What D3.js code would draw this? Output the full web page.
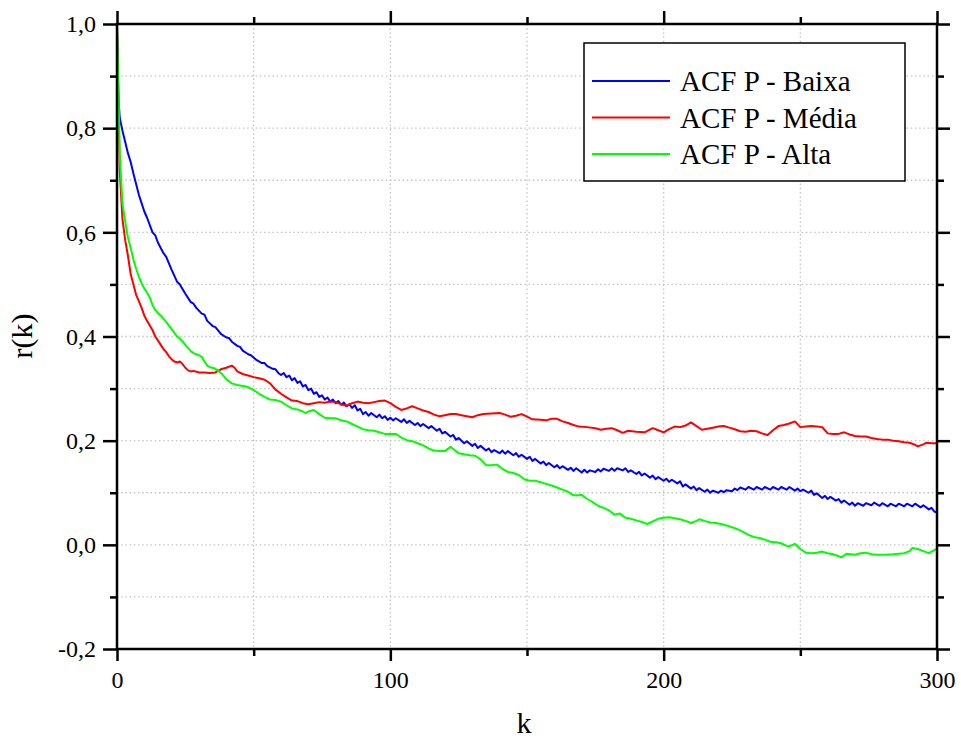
<!DOCTYPE html>
<html>
<head>
<meta charset="utf-8">
<script src="https://cdn.jsdelivr.net/npm/d3@7"></script>
<style>
  html, body { margin: 0; padding: 0; background: #fff; overflow: hidden; }
  svg { display: block; }
  svg text { font-family: "Liberation Serif", "Times New Roman", serif; fill: #000; }
</style>
<script>
// Data: [k, r(k)]
const baixa = [
  [0,1.000],[0.5,0.86],[1,0.82],[2,0.795],[4,0.752],[5,0.735],[6,0.713],[8,0.672],[10,0.640],[11,0.628],
  [13,0.600],[14,0.594],[15,0.580],[17,0.560],[18,0.553],[20,0.528],[22,0.505],[23,0.500],[25,0.482],[27,0.466],
  [28,0.463],[29,0.455],[31,0.444],[32,0.442],[33,0.430],[35,0.420],[36,0.418],[38,0.405],[40,0.398],[41,0.397],
  [42,0.390],[44,0.382],[45,0.380],[46,0.373],[48,0.366],[49,0.364],[51,0.355],[53,0.349],[54,0.349],[55,0.343],
  [57,0.338],[58,0.337],[59,0.330],
  [60,0.326],[61,0.330],[62,0.322],[63,0.325],[64,0.316],[65,0.320],[66,0.311],[67,0.314],[68,0.304],[69,0.307],
  [70,0.297],[71,0.300],[72,0.290],[73,0.293],[74,0.284],[75,0.287],[76,0.279],[77,0.283],[78,0.275],[79,0.279],
  [80,0.272],[81,0.276],[82,0.269],[83,0.273],[84,0.266],[85,0.270],[86,0.263],[87,0.268],[88,0.258],[89,0.261],
  [90,0.251],[91,0.255],[92,0.248],[93,0.253],[95,0.245],[96,0.250],[97,0.243],[98,0.247],[99,0.240],[100,0.244],
  [101,0.239],[102,0.243],[104,0.236],[105,0.241],[106,0.234],[107,0.238],[109,0.230],[110,0.234],[111,0.228],[112,0.232],
  [114,0.224],[115,0.228],[117,0.219],[118,0.223],[119,0.214],[120,0.217],[122,0.208],[123,0.211],[124,0.202],[125,0.205],
  [127,0.195],[128,0.199],[130,0.190],[131,0.194],[132,0.186],[133,0.190],[135,0.181],[136,0.185],[137,0.178],[138,0.182],
  [140,0.176],[141,0.181],[142,0.175],[143,0.180],[145,0.172],[146,0.176],[147,0.169],[148,0.173],[150,0.165],[151,0.169],
  [152,0.161],[153,0.165],[155,0.156],[156,0.160],[157,0.153],[158,0.157],[160,0.149],[161,0.153],[162,0.147],[163,0.151],
  [165,0.144],[166,0.148],[167,0.142],[168,0.147],[170,0.139],[171,0.144],[172,0.139],[173,0.143],[175,0.140],[176,0.145],
  [177,0.141],[178,0.146],[180,0.142],[181,0.147],[182,0.142],[183,0.147],[185,0.143],[186,0.147],[187,0.140],[188,0.143],
  [190,0.136],[191,0.140],[192,0.133],[193,0.137],[195,0.129],[196,0.133],[197,0.126],[198,0.130],[200,0.123],[201,0.127],
  [202,0.121],[203,0.125],[205,0.118],[206,0.122],[207,0.112],[208,0.116],[210,0.108],[211,0.112],[212,0.105],[213,0.109],
  [215,0.102],[216,0.106],[217,0.100],[218,0.104],[220,0.100],[221,0.104],[222,0.101],[223,0.105],[225,0.103],[226,0.108],
  [227,0.105],[228,0.110],[230,0.106],[231,0.111],[233,0.106],[234,0.111],[236,0.106],[237,0.111],[239,0.106],[240,0.111],
  [242,0.106],[243,0.111],[245,0.106],[246,0.111],[248,0.104],[249,0.108],[250,0.103],[251,0.106],[253,0.100],[254,0.104],
  [255,0.096],[256,0.099],[258,0.090],[259,0.094],[260,0.088],[261,0.092],[263,0.085],[264,0.088],[265,0.081],[266,0.085],
  [268,0.077],[269,0.081],[270,0.075],[271,0.080],[273,0.075],[274,0.080],[276,0.076],[277,0.081],[279,0.075],[280,0.080],
  [282,0.074],[283,0.079],[285,0.074],[286,0.079],[288,0.074],[289,0.079],[291,0.074],[292,0.079],[294,0.072],[295,0.076],
  [297,0.068],[298,0.071],[299,0.064],[300,0.062]
];

const media = [
  [0,1.000],[1,0.72],[2,0.625],[3,0.585],[4,0.555],[5,0.52],[6,0.50],[7,0.48],[8,0.468],[9,0.455],
  [10,0.440],[11,0.430],[12,0.421],[13,0.412],[14,0.400],[15,0.392],[16,0.384],[17,0.376],[18,0.370],[19,0.362],
  [20,0.356],[21,0.352],[22,0.350],[23,0.352],[24,0.347],[25,0.340],[26,0.335],[27,0.333],[28,0.334],[30,0.331],
  [32,0.331],[34,0.330],[36,0.331],[38,0.337],[40,0.340],[42,0.344],[43,0.340],[44,0.333],[46,0.328],[48,0.325],
  [50,0.322],[52,0.320],[54,0.317],[56,0.310],[58,0.298],[60,0.290],[62,0.283],[64,0.277],[66,0.276],[68,0.272],
  [70,0.270],[72,0.272],[74,0.274],[76,0.273],[78,0.275],[80,0.274],[82,0.270],[84,0.267],[86,0.272],[88,0.275],
  [90,0.273],[92,0.272],[94,0.274],[96,0.276],[98,0.277],[100,0.272],[102,0.265],[104,0.259],[106,0.262],[108,0.266],
  [110,0.262],[112,0.258],[114,0.255],[116,0.250],[118,0.247],[120,0.249],[122,0.251],[124,0.251],[126,0.249],[128,0.247],
  [130,0.245],[132,0.249],[134,0.251],[137,0.252],[140,0.253],[142,0.250],[144,0.246],[146,0.248],[148,0.251],[150,0.246],
  [152,0.241],[155,0.240],[157,0.239],[159,0.242],[161,0.242],[163,0.237],[165,0.234],[167,0.230],[169,0.227],[172,0.226],
  [175,0.224],[177,0.221],[179,0.223],[181,0.224],[183,0.220],[185,0.215],[187,0.219],[190,0.217],[193,0.216],[196,0.224],
  [198,0.220],[200,0.216],[202,0.222],[204,0.227],[206,0.226],[208,0.229],[210,0.235],[212,0.228],[214,0.221],[216,0.223],
  [218,0.225],[220,0.227],[222,0.228],[224,0.225],[226,0.222],[228,0.218],[230,0.217],[232,0.219],[234,0.218],[236,0.214],
  [238,0.211],[240,0.220],[242,0.228],[244,0.230],[246,0.233],[248,0.237],[250,0.226],[252,0.227],[254,0.228],[256,0.227],
  [258,0.226],[260,0.214],[262,0.213],[264,0.213],[266,0.216],[268,0.212],[270,0.209],[272,0.208],[274,0.208],[276,0.205],
  [278,0.203],[280,0.202],[282,0.202],[284,0.200],[286,0.199],[288,0.197],[290,0.196],[292,0.192],[293,0.189],[295,0.193],
  [296,0.196],[298,0.195],[300,0.195]
];

const alta = [
  [0,1.000],[1,0.75],[2,0.655],[3,0.62],[4,0.590],[5,0.570],[6,0.548],[7,0.530],[8,0.515],[9,0.502],
  [10,0.492],[11,0.484],[12,0.475],[13,0.460],[14,0.451],[15,0.445],[16,0.440],[17,0.434],[18,0.428],[19,0.421],
  [20,0.414],[21,0.407],[22,0.400],[23,0.396],[24,0.390],[25,0.384],[26,0.378],[27,0.372],[28,0.368],[29,0.366],
  [30,0.364],[31,0.361],[32,0.352],[33,0.344],[34,0.341],[35,0.340],[36,0.338],[37,0.334],[38,0.330],[40,0.318],
  [42,0.310],[44,0.307],[46,0.305],[48,0.303],[50,0.297],[52,0.290],[54,0.284],[56,0.279],[58,0.278],[60,0.275],
  [62,0.268],[64,0.262],[66,0.260],[68,0.256],[69,0.253],[70,0.256],[72,0.259],[74,0.251],[76,0.244],[78,0.243],
  [80,0.243],[82,0.239],[84,0.237],[86,0.232],[88,0.227],[90,0.222],[92,0.220],[94,0.219],[96,0.216],[98,0.213],
  [100,0.213],[102,0.213],[104,0.206],[106,0.201],[108,0.199],[110,0.195],[112,0.191],[114,0.185],[116,0.181],[118,0.180],
  [120,0.180],[122,0.188],[123,0.184],[125,0.176],[127,0.174],[129,0.172],[131,0.171],[133,0.164],[135,0.153],[137,0.153],
  [139,0.154],[141,0.146],[143,0.140],[145,0.138],[147,0.134],[149,0.126],[151,0.123],[153,0.123],[155,0.120],[157,0.117],
  [159,0.114],[161,0.110],[163,0.106],[165,0.102],[167,0.095],[169,0.095],[170,0.096],[172,0.088],[174,0.082],[176,0.075],
  [178,0.071],[180,0.066],[182,0.058],[184,0.060],[186,0.052],[188,0.050],[190,0.047],[192,0.044],[194,0.040],[196,0.045],
  [198,0.050],[200,0.052],[202,0.053],[204,0.051],[206,0.049],[208,0.046],[210,0.042],[212,0.046],[213,0.049],[215,0.046],
  [217,0.043],[219,0.042],[221,0.040],[223,0.037],[225,0.034],[227,0.030],[229,0.025],[231,0.019],[233,0.015],[235,0.013],
  [237,0.010],[239,0.006],[241,0.005],[243,0.003],[245,-0.002],[246,-0.003],[248,0.002],[250,-0.008],[252,-0.015],[254,-0.016],
  [256,-0.015],[258,-0.013],[260,-0.016],[262,-0.018],[264,-0.022],[265,-0.024],[267,-0.017],[270,-0.019],[272,-0.016],[274,-0.015],
  [276,-0.018],[278,-0.019],[281,-0.019],[284,-0.018],[286,-0.017],[288,-0.016],[290,-0.012],[291,-0.006],[293,-0.008],[295,-0.012],
  [297,-0.016],[299,-0.010],[300,-0.008]
];

const seriesNames = ['ACF P - Baixa', 'ACF P - Média', 'ACF P - Alta'];
const seriesColors = ['#0000ff', '#ff0000', '#00ff00'];
const xMajorTicks = [0, 100, 200, 300];
const xMinorTicks = [50, 150, 250];
const yMajorTicks = [-0.2, 0, 0.2, 0.4, 0.6, 0.8, 1.0];
const yMinorTicks = [-0.1, 0.1, 0.3, 0.5, 0.7, 0.9];

const render = () => {
  const svg = d3.select('#plot');
  const fontFamily = '"Liberation Serif", "Times New Roman", serif';
  const margin = {top: 24, left: 117, right: 24, bottom: 95};
  const innerWidth = 961 - margin.left - margin.right;
  const innerHeight = 744 - margin.top - margin.bottom;

  const xScale = d3.scaleLinear().domain([0, 300]).range([0, innerWidth]);
  const yScale = d3.scaleLinear().domain([-0.2, 1.0]).range([innerHeight, 0]);

  const g = svg.append('g')
      .attr('transform', `translate(${margin.left}, ${margin.top})`);

  // Grid (dotted)
  const gridColor = '#c4c4c4';
  g.append('g').selectAll('line')
    .data(xMajorTicks.concat(xMinorTicks).filter(d => d > 0 && d < 300))
    .enter().append('line')
      .attr('x1', d => xScale(d)).attr('x2', d => xScale(d))
      .attr('y1', 0).attr('y2', innerHeight)
      .attr('stroke', gridColor).attr('stroke-width', 1.3)
      .attr('stroke-dasharray', '1.5,2.7');
  g.append('g').selectAll('line')
    .data(yMajorTicks.concat(yMinorTicks).filter(d => d > -0.2 && d < 1.0))
    .enter().append('line')
      .attr('y1', d => yScale(d)).attr('y2', d => yScale(d))
      .attr('x1', 0).attr('x2', innerWidth)
      .attr('stroke', gridColor).attr('stroke-width', 1.3)
      .attr('stroke-dasharray', '1.5,2.7');

  // Lines
  const lineGenerator = d3.line()
      .x(d => xScale(d[0]))
      .y(d => yScale(d[1]));

  [baixa, media, alta].forEach((data, i) => {
    g.append('path')
      .attr('d', lineGenerator(data))
      .attr('fill', 'none')
      .attr('stroke', seriesColors[i])
      .attr('stroke-width', 2)
      .attr('stroke-linejoin', 'round');
  });

  // Axes
  const fmt = d => d3.format('.1f')(d).replace('.', ',').replace('−', '-');

  const addAxis = (axisFn, scale, ticks, size, transform, labels, pad) => {
    const ax = axisFn(scale).tickValues(ticks).tickSize(size).tickSizeOuter(0)
      .tickPadding(pad || 6);
    if (labels) ax.tickFormat(labels);
    const s = g.append('g').attr('transform', transform).call(ax);
    s.attr('font-family', fontFamily);
    s.selectAll('.domain').remove();
    s.selectAll('line').attr('stroke', '#000').attr('stroke-width', 2.5);
    if (labels) {
      s.selectAll('text').attr('font-size', '24px').attr('fill', '#000')
        .attr('font-family', fontFamily);
    } else {
      s.selectAll('text').remove();
    }
    return s;
  };

  addAxis(d3.axisLeft, yScale, yMajorTicks, 14, null, fmt, 7);
  addAxis(d3.axisLeft, yScale, yMinorTicks, 7, null, null);
  addAxis(d3.axisRight, yScale, yMajorTicks, 13, `translate(${innerWidth},0)`, null);
  addAxis(d3.axisRight, yScale, yMinorTicks, 7, `translate(${innerWidth},0)`, null);
  addAxis(d3.axisBottom, xScale, xMajorTicks, 12, `translate(0,${innerHeight})`, d3.format('d'), 10);
  addAxis(d3.axisBottom, xScale, xMinorTicks, 7, `translate(0,${innerHeight})`, null);
  addAxis(d3.axisTop, xScale, xMajorTicks, 13, null, null);
  addAxis(d3.axisTop, xScale, xMinorTicks, 7, null, null);

  // Frame
  g.append('rect')
    .attr('x', 0).attr('y', 0)
    .attr('width', innerWidth).attr('height', innerHeight)
    .attr('fill', 'none').attr('stroke', '#000').attr('stroke-width', 2.5);

  // Axis labels
  g.append('text')
    .attr('x', innerWidth / 2 - 3)
    .attr('y', innerHeight + 84)
    .attr('text-anchor', 'middle')
    .attr('font-family', fontFamily)
    .attr('font-size', '30px')
    .text('k');

  g.append('text')
    .attr('transform', `rotate(-90)`)
    .attr('x', -(336 - margin.top))
    .attr('y', -margin.left + 32)
    .attr('text-anchor', 'middle')
    .attr('font-family', fontFamily)
    .attr('font-size', '30px')
    .text('r(k)');

  // Legend
  const legend = svg.append('g').attr('transform', 'translate(584, 43)');
  legend.append('rect')
    .attr('width', 321).attr('height', 138)
    .attr('fill', '#fff').attr('stroke', '#000').attr('stroke-width', 1.5);

  seriesNames.forEach((name, i) => {
    const y = 38 + i * 36.5;
    legend.append('line')
      .attr('x1', 8).attr('x2', 86)
      .attr('y1', y).attr('y2', y)
      .attr('stroke', seriesColors[i]).attr('stroke-width', 2);
    legend.append('text')
      .attr('x', 96).attr('y', y + 10)
      .attr('font-family', fontFamily)
      .attr('font-size', '29px')
      .text(name);
  });
};

document.addEventListener('DOMContentLoaded', render);
</script>
</head>
<body><svg id="plot" width="961" height="744"></svg></body>
</html>
